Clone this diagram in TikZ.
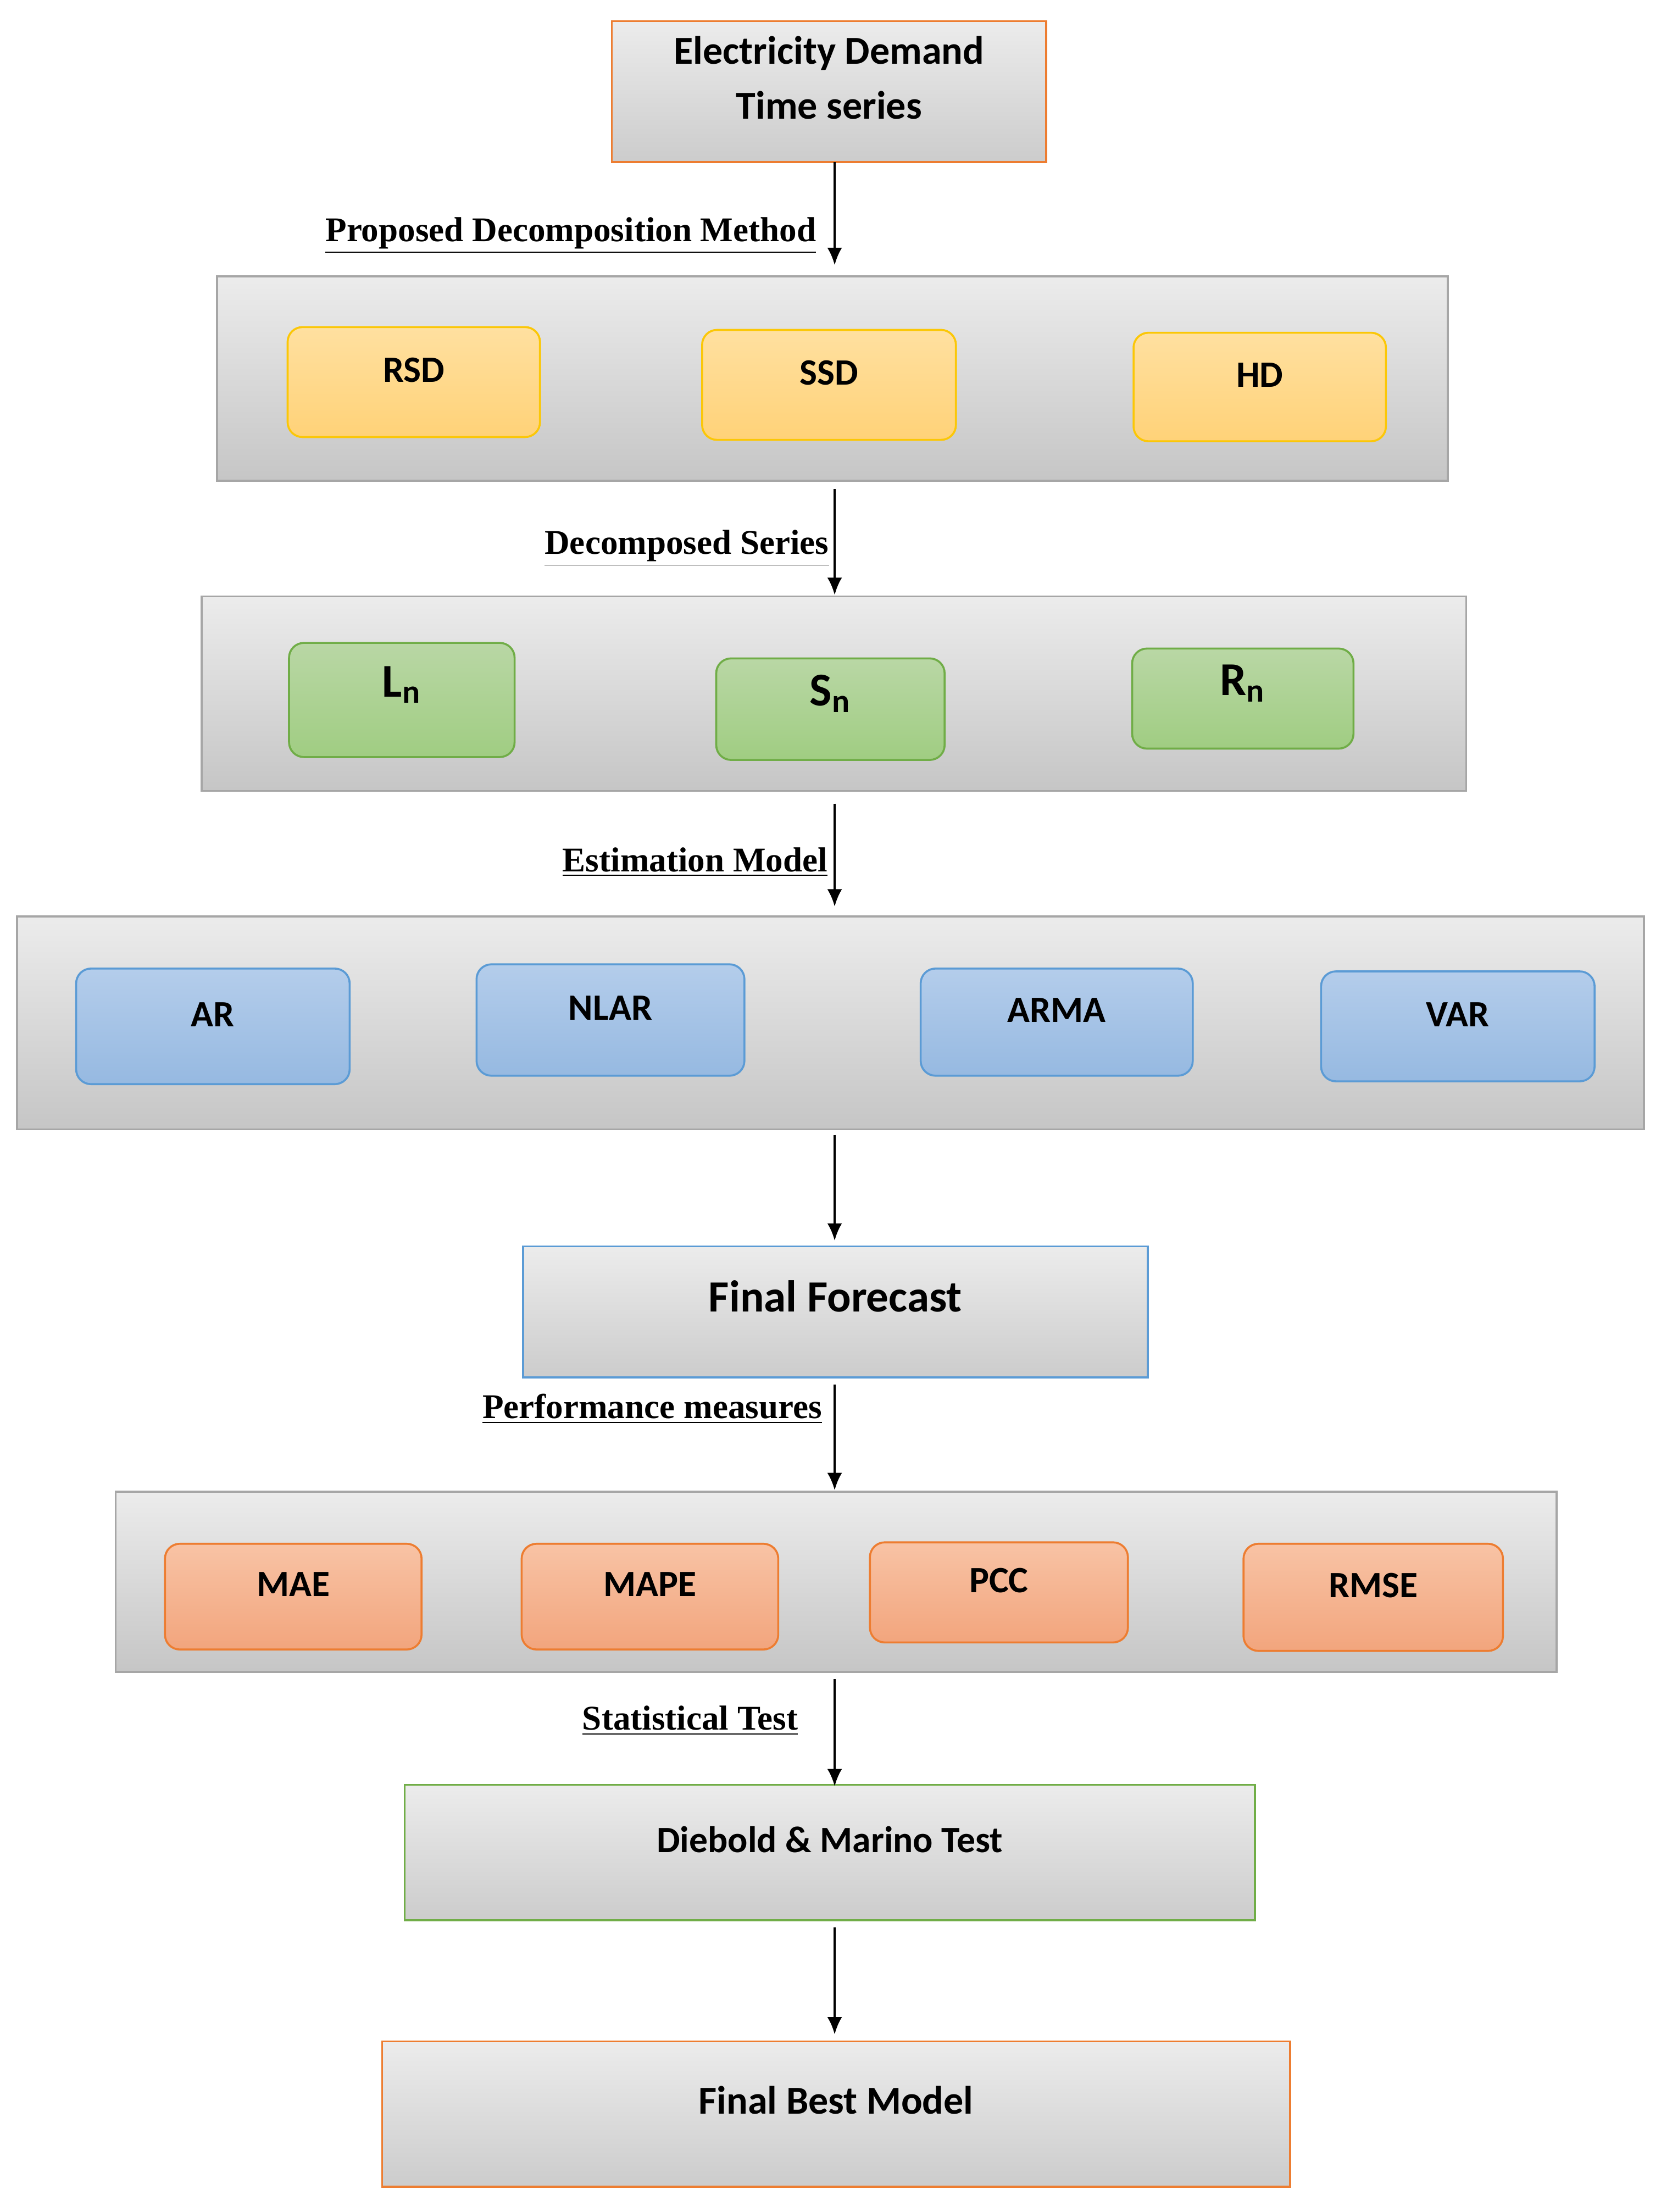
\documentclass[tikz,border=0pt]{standalone}
\usepackage{fontspec}
\setmainfont{Carlito}
\newfontfamily\serifb{Liberation Serif}
\usetikzlibrary{fit,arrows.meta}
\begin{document}
\begin{tikzpicture}[x=0.02cm,y=-0.02cm,
 panel/.style={draw=gray!70,line width=0.8pt,top color=gray!15,bottom color=gray!45,inner sep=0pt},
 tbox/.style={line width=0.8pt,top color=gray!15,bottom color=gray!40,inner sep=0pt,font=\bfseries\fontsize{16}{22}\selectfont,align=center},
 ybox/.style={draw=yellow!60!orange,line width=0.8pt,rounded corners=6pt,top color={rgb,255:red,255;green,224;blue,160},bottom color={rgb,255:red,255;green,210;blue,120},inner sep=0pt,font=\bfseries\fontsize{15}{18}\selectfont},
 gbox/.style={draw={rgb,255:red,112;green,173;blue,71},line width=0.8pt,rounded corners=6pt,top color={rgb,255:red,185;green,215;blue,165},bottom color={rgb,255:red,160;green,205;blue,130},inner sep=0pt,font=\bfseries\fontsize{19}{22}\selectfont},
 bbox/.style={draw={rgb,255:red,91;green,155;blue,213},line width=0.8pt,rounded corners=6pt,top color={rgb,255:red,180;green,205;blue,235},bottom color={rgb,255:red,150;green,185;blue,225},inner sep=0pt,font=\bfseries\fontsize{15}{18}\selectfont},
 obox/.style={draw={rgb,255:red,237;green,125;blue,49},line width=0.8pt,rounded corners=6pt,top color={rgb,255:red,248;green,195;blue,165},bottom color={rgb,255:red,242;green,165;blue,125},inner sep=0pt,font=\bfseries\fontsize{15}{18}\selectfont},
 lab/.style={font=\serifb\bfseries\fontsize{14}{16}\selectfont,anchor=south east,inner sep=1pt},
 arr/.style={-{Latex[length=7pt,width=6pt]},line width=0.9pt}]
\useasboundingbox (0,0) rectangle (1178,1569);
\node[tbox,draw={rgb,255:red,237;green,125;blue,49},fit={(434,15)(742,115)}] (top) {Electricity Demand\\Time series};
\node[panel,fit={(154,196)(1027,341)}] (p1) {};
\node[ybox,fit={(204,232)(383,310)}] (rsd) {RSD};
\node[ybox,fit={(498,234)(678,312)}] (ssd) {SSD};
\node[ybox,fit={(804,236)(983,313)}] (hd) {HD};
\node[panel,fit={(143,423)(1040,561)}] (p2) {};
\node[gbox,fit={(205,456)(365,537)}] (ln) {L\textsubscript{n}};
\node[gbox,fit={(508,467)(670,539)}] (sn) {S\textsubscript{n}};
\node[gbox,fit={(803,460)(960,531)}] (rn) {R\textsubscript{n}};
\node[panel,fit={(12,650)(1166,801)}] (p3) {};
\node[bbox,fit={(54,687)(248,769)}] (ar) {AR};
\node[bbox,fit={(338,684)(528,763)}] (nlar) {NLAR};
\node[bbox,fit={(653,687)(846,763)}] (arma) {ARMA};
\node[bbox,fit={(937,689)(1131,767)}] (var) {VAR};
\node[tbox,draw={rgb,255:red,91;green,155;blue,213},font=\bfseries\fontsize{18}{22}\selectfont,fit={(371,884)(814,977)}] (ff) {Final Forecast};
\node[panel,fit={(82,1058)(1104,1186)}] (p4) {};
\node[obox,fit={(117,1095)(299,1170)}] (mae) {MAE};
\node[obox,fit={(370,1095)(552,1170)}] (mape) {MAPE};
\node[obox,fit={(617,1094)(800,1165)}] (pcc) {PCC};
\node[obox,fit={(882,1095)(1066,1171)}] (rmse) {RMSE};
\node[tbox,draw={rgb,255:red,112;green,173;blue,71},font=\bfseries\fontsize{15}{18}\selectfont,fit={(287,1266)(890,1362)}] (dm) {Diebold \& Marino Test};
\node[tbox,draw={rgb,255:red,237;green,125;blue,49},font=\bfseries\fontsize{16}{20}\selectfont,fit={(271,1448)(915,1551)}] (best) {Final Best Model};
\coordinate (a0) at (592,115); \coordinate (a1) at (592,188);
\coordinate (b0) at (592,347); \coordinate (b1) at (592,422);
\coordinate (c0) at (592,570); \coordinate (c1) at (592,643);
\coordinate (d0) at (592,805); \coordinate (d1) at (592,880);
\coordinate (e0) at (592,982); \coordinate (e1) at (592,1057);
\coordinate (f0) at (592,1191); \coordinate (f1) at (592,1267);
\coordinate (g0) at (592,1367); \coordinate (g1) at (592,1443);
\draw[arr] (a0) -- (a1); \draw[arr] (b0) -- (b1); \draw[arr] (c0) -- (c1);
\draw[arr] (d0) -- (d1); \draw[arr] (e0) -- (e1); \draw[arr] (f0) -- (f1); \draw[arr] (g0) -- (g1);
\node[lab] at (581,182) {\underline{Proposed Decomposition Method}};
\node[lab] at (590,404) {\underline{Decomposed Series}};
\node[lab] at (589,624) {\underline{Estimation Model}};
\node[lab] at (585,1012) {\underline{Performance measures}};
\node[lab] at (568,1233) {\underline{Statistical Test}};
\end{tikzpicture}
\end{document}
